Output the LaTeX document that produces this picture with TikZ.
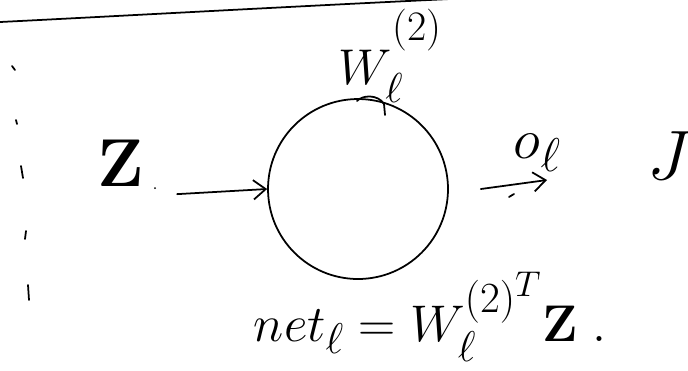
\documentclass[tikz,border=0pt]{standalone}
\usepackage{amsmath,amssymb}
\usepackage{tikz}
\usetikzlibrary{arrows.meta,positioning}

\begin{document}
\begin{tikzpicture}[x=0.02cm,y=-0.02cm,line width=1pt,line cap=round,
    handarr/.style={-{Straight Barb[length=7pt,width=11pt]}},
    inklbl/.style={inner sep=0pt,font=\Huge},
    neuron/.style={circle,draw,minimum size=3.6cm,inner sep=0pt}]
  \useasboundingbox (0,0) rectangle (688,370);
  % top rule
  \draw (0,22) .. controls (120,16) and (300,6) .. (450,-1);
  % left dotted marks
  \foreach \xa/\ya/\xb/\yb in {12/66/15/70, 16/120/17/124, 21/166/23/178, 26/231/25/239, 28/285/29/300}{
    \draw (\xa,\ya) -- (\xb,\yb);
  }
  % input
  \node[inklbl] (zvec) at (121,163) {\scalebox{1.55}{$\mathbf{Z}$}};
  \fill (155,188) circle (1);
  % neuron
  \node[neuron] (cell) at (358,189) {};
  \draw (357,101) .. controls (362,95) and (378,94) .. (384,104) -- (385,115);
  \node[inklbl,anchor=base west] (wlbl) at (338,84)
    {\scalebox{1.15}{$W_{\ell}^{\raisebox{0.44cm}{$\scriptstyle(2)$}}$}};
  \draw[handarr] ([xshift=0.64cm,yshift=-0.14cm]zvec.south east) -- (cell.west);
  % output
  \coordinate (oend) at (547,180);
  \draw[handarr] ([xshift=0.64cm]cell.east) -- (oend);
  \draw (509,197) -- (514,194);
  \node[inklbl,anchor=base west] (olbl) at (513,158) {\scalebox{1.3}{$o_{\ell}$}};
  \node[inklbl] (cost) at (670,156) {\scalebox{1.6}{$J$}};
  % net input
  \node[inklbl,anchor=base west] (netl) at (253,341)
    {\scalebox{1.18}{$net_{\ell} = W_{\ell}^{(2)^{T}}\mathbf{Z}\;.$}};
\end{tikzpicture}
\end{document}
